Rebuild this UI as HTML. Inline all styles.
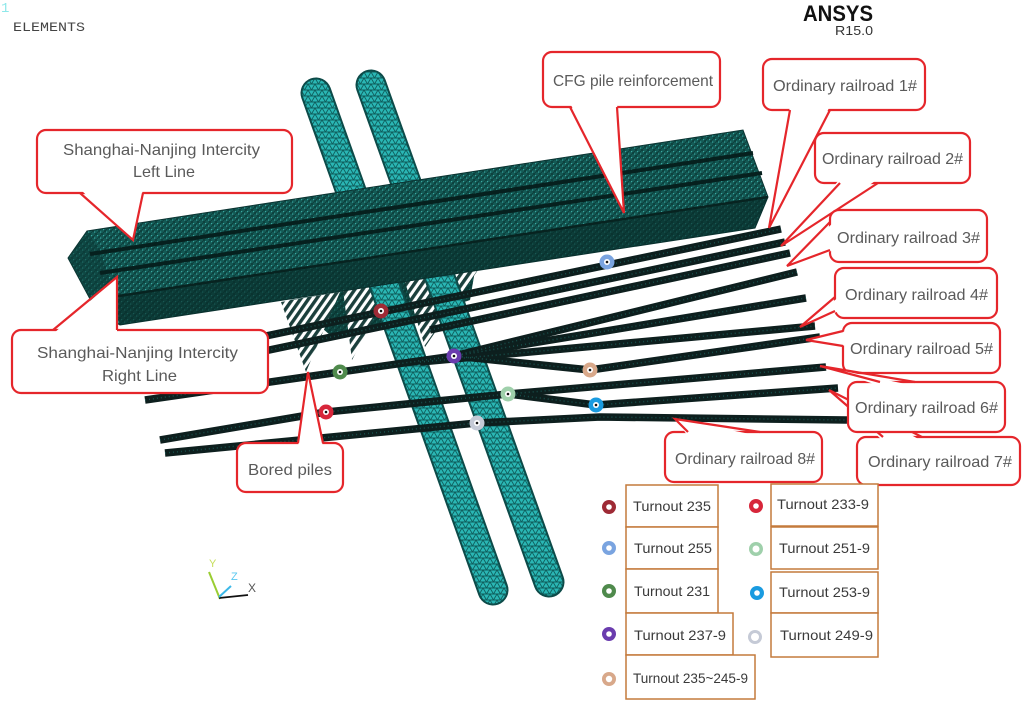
<!DOCTYPE html>
<html><head><meta charset="utf-8"><style>
html,body{margin:0;padding:0;background:#fff;}
svg{display:block;}
.cl{fill:#5a5a5a;font-family:"Liberation Sans",sans-serif;font-size:16px;}
.lg{fill:#3a3a3a;font-family:"Liberation Sans",sans-serif;font-size:14px;}
</style></head><body>
<svg width="1024" height="701" viewBox="0 0 1024 701" xmlns="http://www.w3.org/2000/svg">
<defs>
<pattern id="boxMesh" width="6" height="6" patternUnits="userSpaceOnUse">
<rect width="6" height="6" fill="#145a55"/>
<path d="M0 0 L3 3 L6 0 M0 6 L3 3 L6 6" stroke="#0a3835" stroke-width="0.7" fill="none"/>
<rect x="1" y="1" width="1.2" height="1.2" fill="#3aa8a2"/>
<rect x="4" y="3.5" width="1.2" height="1.2" fill="#3aa8a2"/>
</pattern>
<pattern id="pileMesh" width="7" height="6" patternUnits="userSpaceOnUse">
<rect width="7" height="6" fill="#2ab6b4"/>
<path d="M0 0 L3.5 6 L7 0 Z M0 6 H7" stroke="#0f5e5c" stroke-width="0.9" fill="none"/>
</pattern>
<pattern id="hatch" width="6.5" height="6.5" patternUnits="userSpaceOnUse" patternTransform="rotate(35)">
<rect width="6.5" height="6.5" fill="#ffffff"/>
<rect width="3.4" height="6.5" fill="#1b3f3c"/>
</pattern>
</defs>

<!-- header texts -->
<text x="1" y="12" font-family="Liberation Mono,monospace" font-size="14" fill="#8fe8ea">1</text>
<text x="13" y="31" font-family="Liberation Mono,monospace" font-size="13" fill="#444" textLength="72" lengthAdjust="spacingAndGlyphs">ELEMENTS</text>
<text x="803" y="21" font-family="Liberation Sans,sans-serif" font-weight="bold" font-size="22" fill="#111" textLength="70" lengthAdjust="spacingAndGlyphs">ANSYS</text>
<text x="835" y="35" font-family="Liberation Sans,sans-serif" font-size="13" fill="#333" textLength="38" lengthAdjust="spacingAndGlyphs">R15.0</text>

<!-- dark cap region + hatches -->
<polygon points="290,300 475,270 470,300 380,330 330,335" fill="url(#boxMesh)"/>
<polygon points="290,300 475,270 470,300 380,330 330,335" fill="#082d2a" opacity="0.5"/>
<polygon points="281,302 340,292 306,372" fill="url(#hatch)"/>
<polygon points="343,290 392,283 352,360" fill="url(#hatch)"/>
<polygon points="405,282 478,270 425,347" fill="url(#hatch)"/>

<!-- piles -->
<line x1="316" y1="93" x2="493" y2="590" stroke="#0d4b49" stroke-width="31" stroke-linecap="round"/>
<line x1="316" y1="93" x2="493" y2="590" stroke="url(#pileMesh)" stroke-width="27" stroke-linecap="round"/>
<line x1="371" y1="85" x2="549" y2="582" stroke="#0d4b49" stroke-width="31" stroke-linecap="round"/>
<line x1="371" y1="85" x2="549" y2="582" stroke="url(#pileMesh)" stroke-width="27" stroke-linecap="round"/>

<!-- CFG box -->
<polygon points="87,231 743,130 768,197 755,228 120,325 97,312 68,258" fill="url(#boxMesh)" stroke="#0a3331" stroke-width="1"/>
<polygon points="87,231 68,258 97,312 115,298 100,250" fill="#0b3a37" opacity="0.55"/>
<polygon points="112,296 768,197 755,228 120,325" fill="#082d2a" opacity="0.65"/>
<line x1="90" y1="254" x2="753" y2="153" stroke="#06201e" stroke-width="4"/>
<line x1="100" y1="273" x2="762" y2="173" stroke="#06201e" stroke-width="4"/>
<line x1="112" y1="297" x2="768" y2="197" stroke="#072320" stroke-width="2.5"/>

<!-- rails -->
<g fill="none" stroke="#0d1f1e" stroke-width="7.5" stroke-linejoin="round">
<path d="M150 360 L781 229"/>
<path d="M150 375 L785 242"/>
<path d="M430 330 L790 253"/>
<path d="M454 356 L797 272"/>
<path d="M145 400 L340 372 L454 356 L806 298"/>
<path d="M454 356 L590 370 L820 337"/>
<path d="M420 362 L815 326"/>
<path d="M160 440 L326 412 L508 394 L826 367"/>
<path d="M508 394 L596 405 L838 388"/>
<path d="M165 453 L477 423 L600 417 L847 420"/>
</g>
<g fill="none" stroke="#1f6f6a" stroke-width="1.5" stroke-dasharray="1 3" opacity="0.6">
<path d="M150 360 L781 229"/>
<path d="M150 375 L785 242"/>
<path d="M430 330 L790 253"/>
<path d="M454 356 L797 272"/>
<path d="M145 400 L340 372 L454 356 L806 298"/>
<path d="M454 356 L590 370 L820 337"/>
<path d="M420 362 L815 326"/>
<path d="M160 440 L326 412 L508 394 L826 367"/>
<path d="M508 394 L596 405 L838 388"/>
<path d="M165 453 L477 423 L600 417 L847 420"/>
</g>

<!-- turnout dots on diagram -->
<g>
<circle cx="381" cy="311" r="7.5" fill="#9e2a35"/><circle cx="381" cy="311" r="3" fill="#fff"/><circle cx="381" cy="311" r="1.3" fill="#111"/>
<circle cx="607" cy="262" r="7.5" fill="#7aa4e0"/><circle cx="607" cy="262" r="3" fill="#fff"/><circle cx="607" cy="262" r="1.3" fill="#111"/>
<circle cx="340" cy="372" r="7.5" fill="#4f8a4c"/><circle cx="340" cy="372" r="3" fill="#fff"/><circle cx="340" cy="372" r="1.3" fill="#111"/>
<circle cx="454" cy="356" r="7.5" fill="#6a3cae"/><circle cx="454" cy="356" r="3" fill="#fff"/><circle cx="454" cy="356" r="1.3" fill="#111"/>
<circle cx="590" cy="370" r="7.5" fill="#d8a88a"/><circle cx="590" cy="370" r="3" fill="#fff"/><circle cx="590" cy="370" r="1.3" fill="#111"/>
<circle cx="326" cy="412" r="7.5" fill="#d7263a"/><circle cx="326" cy="412" r="3" fill="#fff"/><circle cx="326" cy="412" r="1.3" fill="#111"/>
<circle cx="508" cy="394" r="7.5" fill="#9fd0ab"/><circle cx="508" cy="394" r="3" fill="#fff"/><circle cx="508" cy="394" r="1.3" fill="#111"/>
<circle cx="596" cy="405" r="7.5" fill="#1a9be0"/><circle cx="596" cy="405" r="3" fill="#fff"/><circle cx="596" cy="405" r="1.3" fill="#111"/>
<circle cx="477" cy="423" r="7.5" fill="#c5cad6"/><circle cx="477" cy="423" r="3" fill="#fff"/><circle cx="477" cy="423" r="1.3" fill="#111"/>
</g>

<!-- axis triad -->
<line x1="209" y1="572" x2="220" y2="599" stroke="#9acd32" stroke-width="2"/>
<line x1="219" y1="598" x2="248" y2="595" stroke="#111" stroke-width="1.8"/>
<line x1="219" y1="597" x2="231" y2="586" stroke="#3cb8e8" stroke-width="2"/>
<text x="209" y="567" font-family="Liberation Sans,sans-serif" font-size="11" fill="#c6de5a">Y</text>
<text x="231" y="580" font-family="Liberation Sans,sans-serif" font-size="11" fill="#5ac8f0">Z</text>
<text x="248" y="592" font-family="Liberation Sans,sans-serif" font-size="12" fill="#555">X</text>

<!-- callouts -->
<g stroke="#e5262b" stroke-width="2.2">
<rect x="37" y="130" width="255" height="63" rx="9" fill="#fff"/>
<polygon points="80,189 143,189 133,240" fill="#fff" stroke="none"/>
<polyline points="80,193 133,240 143,193" fill="none"/>
<rect x="543" y="52" width="177" height="55" rx="9" fill="#fff"/>
<polygon points="570,103 617,103 624,213" fill="#fff" stroke="none"/>
<polyline points="570,107 624,213 617,107" fill="none"/>
<rect x="763" y="59" width="162" height="51" rx="9" fill="#fff"/>
<polygon points="790,106 830,106 769,228" fill="#fff" stroke="none"/>
<polyline points="790,110 769,228 830,110" fill="none"/>
<rect x="815" y="133" width="155" height="50" rx="9" fill="#fff"/>
<polygon points="840,179 878,179 781,246" fill="#fff" stroke="none"/>
<polyline points="840,183 781,246 878,183" fill="none"/>
<rect x="830" y="210" width="157" height="52" rx="9" fill="#fff"/>
<polygon points="834,222 834,250 787,266" fill="#fff" stroke="none"/>
<polyline points="830,222 787,266 830,250" fill="none"/>
<rect x="835" y="268" width="162" height="50" rx="9" fill="#fff"/>
<polygon points="839,297 839,311 800,327" fill="#fff" stroke="none"/>
<polyline points="835,297 800,327 835,311" fill="none"/>
<rect x="843" y="323" width="157" height="50" rx="9" fill="#fff"/>
<polygon points="847,331 847,346 806,340" fill="#fff" stroke="none"/>
<polyline points="843,331 806,340 843,346" fill="none"/>
<rect x="857" y="437" width="163" height="48" rx="9" fill="#fff"/>
<polygon points="883,441 922,441 829,390" fill="#fff" stroke="none"/>
<polyline points="883,437 829,390 922,437" fill="none"/>
<rect x="848" y="382" width="157" height="50" rx="9" fill="#fff"/>
<polygon points="880,386 915,386 820,366" fill="#fff" stroke="none"/>
<polyline points="880,382 820,366 915,382" fill="none"/>
<rect x="665" y="432" width="157" height="50" rx="9" fill="#fff"/>
<polygon points="688,436 760,436 675,419" fill="#fff" stroke="none"/>
<polyline points="688,432 675,419 760,432" fill="none"/>
<rect x="12" y="330" width="256" height="63" rx="9" fill="#fff"/>
<polygon points="53,334 117,334 117,277" fill="#fff" stroke="none"/>
<polyline points="53,330 117,277 117,330" fill="none"/>
<rect x="237" y="443" width="106" height="49" rx="9" fill="#fff"/>
<polygon points="298,447 323,447 308,372" fill="#fff" stroke="none"/>
<polyline points="298,443 308,372 323,443" fill="none"/>
</g>

<g class="cl">
<text x="63" y="155" textLength="197" lengthAdjust="spacingAndGlyphs">Shanghai-Nanjing Intercity</text>
<text x="133" y="177" textLength="62" lengthAdjust="spacingAndGlyphs">Left Line</text>
<text x="553" y="86" textLength="160" lengthAdjust="spacingAndGlyphs">CFG pile reinforcement</text>
<text x="773" y="91" textLength="144" lengthAdjust="spacingAndGlyphs">Ordinary railroad 1#</text>
<text x="822" y="164" textLength="141" lengthAdjust="spacingAndGlyphs">Ordinary railroad 2#</text>
<text x="837" y="243" textLength="143" lengthAdjust="spacingAndGlyphs">Ordinary railroad 3#</text>
<text x="845" y="300" textLength="143" lengthAdjust="spacingAndGlyphs">Ordinary railroad 4#</text>
<text x="850" y="354" textLength="143" lengthAdjust="spacingAndGlyphs">Ordinary railroad 5#</text>
<text x="855" y="413" textLength="143" lengthAdjust="spacingAndGlyphs">Ordinary railroad 6#</text>
<text x="868" y="467" textLength="144" lengthAdjust="spacingAndGlyphs">Ordinary railroad 7#</text>
<text x="675" y="464" textLength="140" lengthAdjust="spacingAndGlyphs">Ordinary railroad 8#</text>
<text x="37" y="358" textLength="201" lengthAdjust="spacingAndGlyphs">Shanghai-Nanjing Intercity</text>
<text x="102" y="381" textLength="75" lengthAdjust="spacingAndGlyphs">Right Line</text>
<text x="248" y="475" textLength="84" lengthAdjust="spacingAndGlyphs">Bored piles</text>
</g>

<!-- legend -->
<g fill="#fff" stroke="#c47a3c" stroke-width="1.5">
<rect x="626" y="485" width="92" height="42"/>
<rect x="626" y="527" width="92" height="42"/>
<rect x="626" y="569" width="92" height="44"/>
<rect x="626" y="613" width="107" height="42"/>
<rect x="626" y="655" width="129" height="44"/>
<rect x="771" y="484" width="107" height="42"/>
<rect x="771" y="527" width="107" height="42"/>
<rect x="771" y="572" width="107" height="41"/>
<rect x="771" y="613" width="107" height="44"/>
</g>
<g class="lg">
<text x="633" y="511" textLength="78" lengthAdjust="spacingAndGlyphs">Turnout 235</text>
<text x="634" y="553" textLength="78" lengthAdjust="spacingAndGlyphs">Turnout 255</text>
<text x="634" y="596" textLength="76" lengthAdjust="spacingAndGlyphs">Turnout 231</text>
<text x="634" y="640" textLength="92" lengthAdjust="spacingAndGlyphs">Turnout 237-9</text>
<text x="633" y="683" textLength="115" lengthAdjust="spacingAndGlyphs">Turnout 235~245-9</text>
<text x="777" y="509" textLength="92" lengthAdjust="spacingAndGlyphs">Turnout 233-9</text>
<text x="779" y="553" textLength="91" lengthAdjust="spacingAndGlyphs">Turnout 251-9</text>
<text x="779" y="597" textLength="91" lengthAdjust="spacingAndGlyphs">Turnout 253-9</text>
<text x="780" y="640" textLength="93" lengthAdjust="spacingAndGlyphs">Turnout 249-9</text>
</g>
<g>
<circle cx="609" cy="507" r="7" fill="#9e2a35"/><circle cx="609" cy="507" r="2.8" fill="#fff"/>
<circle cx="609" cy="548" r="7" fill="#7aa4e0"/><circle cx="609" cy="548" r="2.8" fill="#fff"/>
<circle cx="609" cy="591" r="7" fill="#4f8a4c"/><circle cx="609" cy="591" r="2.8" fill="#fff"/>
<circle cx="609" cy="634" r="7" fill="#6a3cae"/><circle cx="609" cy="634" r="2.8" fill="#fff"/>
<circle cx="609" cy="679" r="7" fill="#d8a88a"/><circle cx="609" cy="679" r="3.2" fill="#fff"/>
<circle cx="756" cy="506" r="7" fill="#d7263a"/><circle cx="756" cy="506" r="2.8" fill="#fff"/>
<circle cx="756" cy="549" r="7" fill="#9fd0ab"/><circle cx="756" cy="549" r="3.5" fill="#fff"/>
<circle cx="757" cy="593" r="7" fill="#1a9be0"/><circle cx="757" cy="593" r="2.8" fill="#fff"/>
<circle cx="755" cy="637" r="7" fill="#c5cad6"/><circle cx="755" cy="637" r="4" fill="#fff"/>
</g>
</svg>
</body></html>
